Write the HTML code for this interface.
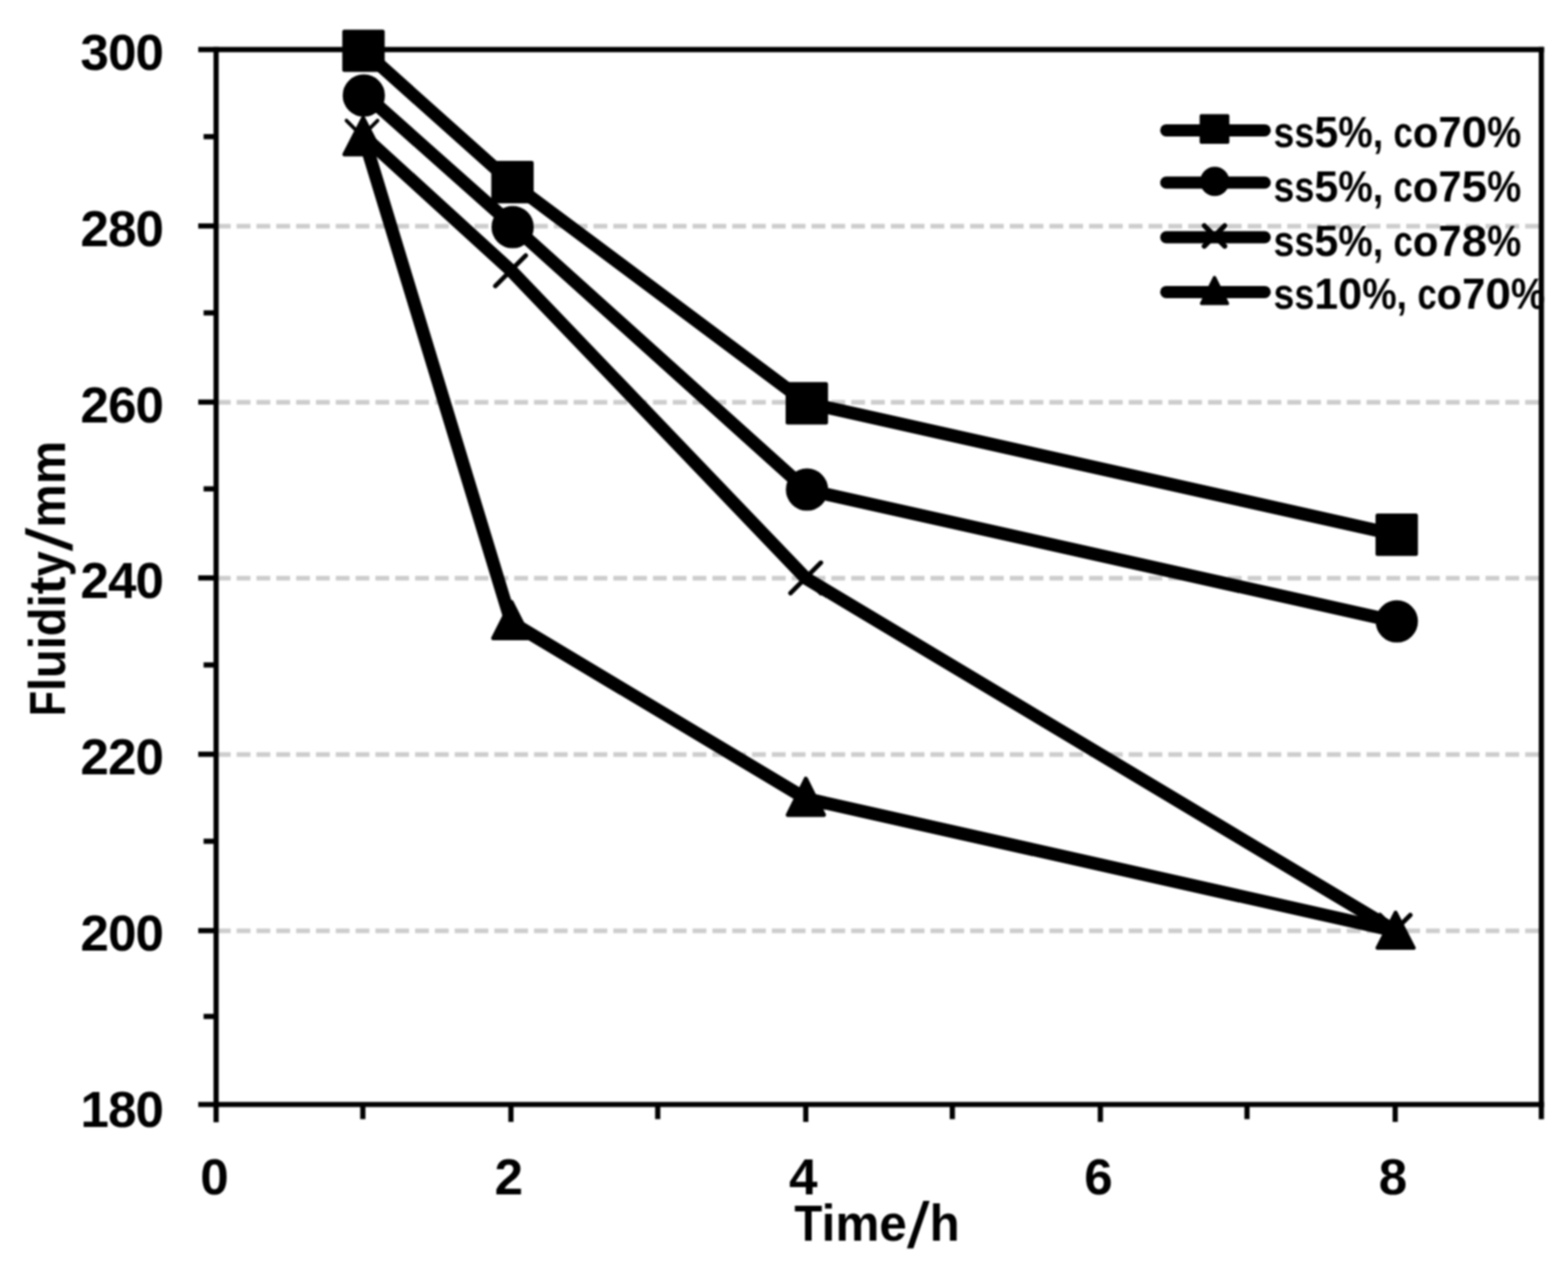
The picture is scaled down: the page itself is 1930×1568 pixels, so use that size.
<!DOCTYPE html>
<html lang="en"><head><meta charset="utf-8"><title>Fluidity vs Time</title>
<style>
html,body{margin:0;padding:0;background:#fff;}
body{width:1930px;height:1568px;overflow:hidden;position:relative;}
svg{position:absolute;left:0;top:0;display:block;filter:blur(1px);}
text{font-family:"Liberation Sans",sans-serif;font-weight:bold;fill:#000;}
.ax{stroke:#000;stroke-width:6.4;fill:none;stroke-linecap:butt;}
.grid{stroke:#cdcdcd;stroke-width:5.8;stroke-dasharray:17 7.4;fill:none;}
.ser{stroke:#000;stroke-width:16;fill:none;stroke-linejoin:round;stroke-linecap:round;}
.mk{fill:#000;stroke:#000;stroke-width:5;stroke-linejoin:round;}
.xm{stroke:#000;stroke-width:5.6;stroke-linecap:round;fill:none;}
.lg{stroke:#000;stroke-width:15;stroke-linecap:round;fill:none;}
.lmk{fill:#000;stroke:#000;stroke-width:4;stroke-linejoin:round;}
.lxm{stroke:#000;stroke-width:6.2;stroke-linecap:round;fill:none;}
.t1{font-size:63px;}
.yl{letter-spacing:-1.2px;}
.t2{font-size:53.5px;}
.sl{font-size:80px;font-weight:normal;}
</style></head><body>
<svg width="1930" height="1568" viewBox="0 0 1930 1568">
<rect x="0" y="0" width="1930" height="1568" fill="#fff"/>
<g class="grid">
<line x1="266.9" y1="278.4" x2="1897" y2="278.4"/>
<line x1="266.9" y1="495.2" x2="1897" y2="495.2"/>
<line x1="266.9" y1="711.6" x2="1897" y2="711.6"/>
<line x1="266.9" y1="928.6" x2="1897" y2="928.6"/>
<line x1="266.9" y1="1145.7" x2="1897" y2="1145.7"/>
</g>
<g class="ax">
<line x1="244" y1="61.0" x2="1900.5" y2="61.0"/>
<line x1="244" y1="1359.4" x2="1900.5" y2="1359.4"/>
<line x1="266" y1="57.8" x2="266" y2="1381.3"/>
<line x1="1897.2" y1="57.8" x2="1897.2" y2="1377.6"/>
<line x1="244" y1="278.1" x2="266" y2="278.1"/>
<line x1="244" y1="494.9" x2="266" y2="494.9"/>
<line x1="244" y1="711.3" x2="266" y2="711.3"/>
<line x1="244" y1="928.3" x2="266" y2="928.3"/>
<line x1="244" y1="1145.4" x2="266" y2="1145.4"/>
<line x1="250.6" y1="168.2" x2="266" y2="168.2"/>
<line x1="250.6" y1="385.1" x2="266" y2="385.1"/>
<line x1="250.6" y1="601.7" x2="266" y2="601.7"/>
<line x1="250.6" y1="818.4" x2="266" y2="818.4"/>
<line x1="250.6" y1="1035.4" x2="266" y2="1035.4"/>
<line x1="250.6" y1="1251.0" x2="266" y2="1251.0"/>
<line x1="446.6" y1="1359.4" x2="446.6" y2="1377.4"/>
<line x1="628.9" y1="1359.4" x2="628.9" y2="1380.8"/>
<line x1="809.6" y1="1359.4" x2="809.6" y2="1377.4"/>
<line x1="991.8" y1="1359.4" x2="991.8" y2="1380.8"/>
<line x1="1172.2" y1="1359.4" x2="1172.2" y2="1377.4"/>
<line x1="1354.4" y1="1359.4" x2="1354.4" y2="1380.8"/>
<line x1="1534.9" y1="1359.4" x2="1534.9" y2="1377.4"/>
<line x1="1717.3" y1="1359.4" x2="1717.3" y2="1380.8"/>
</g>
<polyline class="ser" points="447.0,61.8 629.2,224.6 992.1,495.7 1717.8,658.0"/>
<rect class="mk" x="423.8" y="38.9" width="47.2" height="47.2"/>
<rect class="mk" x="607.2" y="200.5" width="47.2" height="47.2"/>
<rect class="mk" x="969.5" y="472.8" width="47.2" height="47.2"/>
<rect class="mk" x="1695.6" y="634.6" width="47.2" height="47.2"/>
<polyline class="ser" points="447.2,114.3 629.5,276.3 992.2,602.7 1717.9,764.9"/>
<circle class="mk" cx="447.8" cy="117.6" r="23.5"/>
<circle class="mk" cx="631.0" cy="279.5" r="23.5"/>
<circle class="mk" cx="993.3" cy="602.6" r="23.5"/>
<circle class="mk" cx="1719.3" cy="764.8" r="23.5"/>
<polyline class="ser" points="447.3,167.3 628.9,332.9 991.8,711.6 1717.3,1145.7"/>
<path class="xm" style="stroke-width:4.4" d="M426.4 148.4L464.8 186.8M426.4 186.8L464.8 148.4"/>
<path class="xm" d="M609.7 314.5L647.1 351.9M609.7 351.9L647.1 314.5"/>
<path class="xm" d="M973.0 692.6L1010.4 730.0M973.0 730.0L1010.4 692.6"/>
<path class="xm" d="M1698.5 1126.2L1735.9 1163.6M1698.5 1163.6L1735.9 1126.2"/>
<polyline class="ser" points="447.3,167.3 629.2,765.8 991.8,982.9 1717.3,1145.7"/>
<polygon class="mk" points="447.0,145.1 470.0,190.0 424.0,190.0"/>
<polygon class="mk" points="629.6,740.9 652.1,785.4 607.1,785.4"/>
<polygon class="mk" points="991.9,958.4 1014.1,1002.9 969.7,1002.9"/>
<polygon class="mk" points="1717.8,1123.3 1740.0,1166.6 1695.6,1166.6"/>
<line class="lg" x1="1435.5" y1="160.4" x2="1556.7" y2="160.4"/>
<line class="lg" x1="1435.5" y1="224.7" x2="1556.7" y2="224.7"/>
<line class="lg" x1="1435.5" y1="292.0" x2="1556.7" y2="292.0"/>
<line class="lg" x1="1435.5" y1="359.4" x2="1556.7" y2="359.4"/>
<rect class="lmk" x="1478.6" y="142.5" width="32.6" height="32.6"/>
<circle class="lmk" cx="1495.2" cy="223.2" r="16"/>
<path class="lxm" d="M1482.3 277.8L1507.5 303.0M1482.3 303.0L1507.5 277.8"/>
<polygon class="lmk" points="1494.9,341.5 1510.9,373.6 1478.9,373.6"/>
<text class="t2" x="1567.6" y="180.9"><tspan textLength="25.6" lengthAdjust="spacingAndGlyphs">s</tspan><tspan textLength="24.6" lengthAdjust="spacingAndGlyphs">s</tspan><tspan textLength="29.5" lengthAdjust="spacingAndGlyphs">5</tspan><tspan textLength="42.4" lengthAdjust="spacingAndGlyphs">%</tspan><tspan textLength="25.6" lengthAdjust="spacingAndGlyphs">, </tspan><tspan textLength="23.6" lengthAdjust="spacingAndGlyphs">c</tspan><tspan textLength="31.5" lengthAdjust="spacingAndGlyphs">o</tspan><tspan textLength="28.5" lengthAdjust="spacingAndGlyphs">7</tspan><tspan textLength="31.5" lengthAdjust="spacingAndGlyphs">0</tspan><tspan textLength="42.0" lengthAdjust="spacingAndGlyphs">%</tspan></text>
<text class="t2" x="1567.6" y="248.0"><tspan textLength="25.6" lengthAdjust="spacingAndGlyphs">s</tspan><tspan textLength="24.6" lengthAdjust="spacingAndGlyphs">s</tspan><tspan textLength="29.5" lengthAdjust="spacingAndGlyphs">5</tspan><tspan textLength="42.4" lengthAdjust="spacingAndGlyphs">%</tspan><tspan textLength="25.6" lengthAdjust="spacingAndGlyphs">, </tspan><tspan textLength="23.6" lengthAdjust="spacingAndGlyphs">c</tspan><tspan textLength="31.5" lengthAdjust="spacingAndGlyphs">o</tspan><tspan textLength="28.5" lengthAdjust="spacingAndGlyphs">7</tspan><tspan textLength="31.5" lengthAdjust="spacingAndGlyphs">5</tspan><tspan textLength="42.0" lengthAdjust="spacingAndGlyphs">%</tspan></text>
<text class="t2" x="1567.6" y="314.8"><tspan textLength="25.6" lengthAdjust="spacingAndGlyphs">s</tspan><tspan textLength="24.6" lengthAdjust="spacingAndGlyphs">s</tspan><tspan textLength="29.5" lengthAdjust="spacingAndGlyphs">5</tspan><tspan textLength="42.4" lengthAdjust="spacingAndGlyphs">%</tspan><tspan textLength="25.6" lengthAdjust="spacingAndGlyphs">, </tspan><tspan textLength="23.6" lengthAdjust="spacingAndGlyphs">c</tspan><tspan textLength="31.5" lengthAdjust="spacingAndGlyphs">o</tspan><tspan textLength="28.5" lengthAdjust="spacingAndGlyphs">7</tspan><tspan textLength="31.5" lengthAdjust="spacingAndGlyphs">8</tspan><tspan textLength="42.0" lengthAdjust="spacingAndGlyphs">%</tspan></text>
<text class="t2" x="1567.6" y="380.3"><tspan textLength="25.6" lengthAdjust="spacingAndGlyphs">s</tspan><tspan textLength="24.6" lengthAdjust="spacingAndGlyphs">s</tspan><tspan textLength="29.3" lengthAdjust="spacingAndGlyphs">1</tspan><tspan textLength="29.6" lengthAdjust="spacingAndGlyphs">0</tspan><tspan textLength="42.4" lengthAdjust="spacingAndGlyphs">%</tspan><tspan textLength="25.6" lengthAdjust="spacingAndGlyphs">, </tspan><tspan textLength="23.6" lengthAdjust="spacingAndGlyphs">c</tspan><tspan textLength="31.5" lengthAdjust="spacingAndGlyphs">o</tspan><tspan textLength="28.5" lengthAdjust="spacingAndGlyphs">7</tspan><tspan textLength="31.5" lengthAdjust="spacingAndGlyphs">0</tspan><tspan textLength="42.0" lengthAdjust="spacingAndGlyphs">%</tspan></text>
<text class="t1 yl" x="200.6" y="86.0" text-anchor="end">300</text>
<text class="t1 yl" x="200.6" y="303.1" text-anchor="end">280</text>
<text class="t1 yl" x="200.6" y="519.9" text-anchor="end">260</text>
<text class="t1 yl" x="200.6" y="736.3" text-anchor="end">240</text>
<text class="t1 yl" x="200.6" y="953.3" text-anchor="end">220</text>
<text class="t1 yl" x="200.6" y="1170.4" text-anchor="end">200</text>
<text class="t1 yl" x="200.6" y="1386.7" text-anchor="end">180</text>
<text class="t1" x="263.9" y="1469.5" text-anchor="middle">0</text>
<text class="t1" x="626.2" y="1469.5" text-anchor="middle">2</text>
<text class="t1" x="988.7" y="1469.5" text-anchor="middle">4</text>
<text class="t1" x="1352.0" y="1469.5" text-anchor="middle">6</text>
<text class="t1" x="1714.6" y="1469.5" text-anchor="middle">8</text>
<text class="t1" x="977.8" y="1526.9"><tspan textLength="33.4" lengthAdjust="spacingAndGlyphs">T</tspan><tspan textLength="105.1" lengthAdjust="spacingAndGlyphs">ime</tspan><tspan class="sl" dy="9" textLength="28.0" lengthAdjust="spacingAndGlyphs">/</tspan><tspan dy="-9" textLength="37" lengthAdjust="spacingAndGlyphs">h</tspan></text>
<text class="t1" transform="translate(80.4 881.5) rotate(-90)"><tspan textLength="31.0" lengthAdjust="spacingAndGlyphs">F</tspan><tspan textLength="119.0" lengthAdjust="spacingAndGlyphs">luidi</tspan><tspan textLength="22.0" lengthAdjust="spacingAndGlyphs">t</tspan><tspan textLength="31.0" lengthAdjust="spacingAndGlyphs">y</tspan><tspan class="sl" dy="9" textLength="29.0" lengthAdjust="spacingAndGlyphs">/</tspan><tspan dy="-9" textLength="107" lengthAdjust="spacingAndGlyphs">mm</tspan></text>
</svg>
</body></html>
